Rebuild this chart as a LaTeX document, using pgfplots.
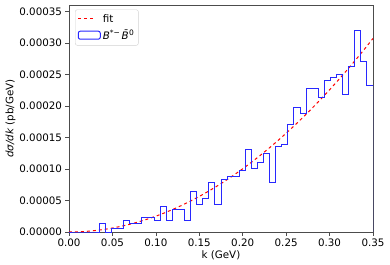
\documentclass[border=0pt]{standalone}
\usepackage{fontspec}
\setmainfont{DejaVu Sans}
\usepackage{pgfplots}
\pgfplotsset{compat=1.18}
\definecolor{mplblue}{RGB}{40,40,255}
\begin{document}
\begin{tikzpicture}
\useasboundingbox (-69bp,-33bp) rectangle (321bp,232bp);
\begin{axis}[
  scale only axis,
  width=304bp, height=227bp,
  xmin=0, xmax=0.35, ymin=0, ymax=0.00036,
  axis line style={black!70, line width=0.6bp},
  tick style={black!70, line width=0.6bp},
  tick align=outside, major tick length=3.5bp,
  xtick={0,0.05,...,0.351},
  ytick={0,0.00005,0.0001,0.00015,0.0002,0.00025,0.0003,0.00035},
  scaled x ticks=false, scaled y ticks=false,
  xticklabel style={/pgf/number format/.cd, fixed, fixed zerofill, precision=2, assume math mode=true},
  yticklabel style={/pgf/number format/.cd, fixed, fixed zerofill, precision=5, assume math mode=true},
  ticklabel style={font=\fontsize{10.3bp}{12bp}\selectfont},
  xtick pos=bottom, ytick pos=left,
  label style={font=\fontsize{10.3bp}{12bp}\selectfont},
  xlabel={k (GeV)},
  ylabel={\textit{dσ/dk} (pb/GeV)},
  xlabel style={yshift=3bp},
  ylabel style={yshift=-3bp},
  legend style={at={(0.02,0.98)}, anchor=north west, draw=black!18, rounded corners=2bp,
    font=\fontsize{10.3bp}{12bp}\selectfont, row sep=2bp, inner sep=2.5bp},
  legend cell align=left,
]
\addplot[red, dashed, line width=1bp] coordinates {
(0,0) (0.01,2.506e-7) (0.02,1.002e-6) (0.03,2.255e-6) (0.04,4.010e-6)
(0.05,6.265e-6) (0.06,9.022e-6) (0.07,1.2279e-5) (0.08,1.6038e-5) (0.09,2.0299e-5)
(0.10,2.506e-5) (0.11,3.0323e-5) (0.12,3.6086e-5) (0.13,4.2351e-5) (0.14,4.9118e-5)
(0.15,5.6385e-5) (0.16,6.4154e-5) (0.17,7.2423e-5) (0.18,8.1194e-5) (0.19,9.0467e-5)
(0.20,1.0024e-4) (0.21,1.1051e-4) (0.22,1.2129e-4) (0.23,1.3257e-4) (0.24,1.4434e-4)
(0.25,1.5663e-4) (0.26,1.6940e-4) (0.27,1.8269e-4) (0.28,1.9647e-4) (0.29,2.1076e-4)
(0.30,2.2554e-4) (0.31,2.4083e-4) (0.32,2.5662e-4) (0.33,2.7290e-4) (0.34,2.8969e-4)
(0.35,3.0699e-4)};
\addlegendentry{fit}
\addplot[mplblue, line width=1bp, const plot mark left, mark=none,
  legend image code/.code={\draw[mplblue, line width=1bp] (0bp,-4bp) rectangle (22bp,4bp);}] coordinates {
(0,0) (0.007,0) (0.014,0) (0.021,0) (0.028,0)
(0.035,1.38e-5) (0.042,0) (0.049,5.5e-6) (0.056,5.5e-6) (0.063,1.9e-5)
(0.070,1.38e-5) (0.077,1.38e-5) (0.084,2.33e-5) (0.091,2.33e-5) (0.098,1.9e-5)
(0.105,4.0e-5) (0.112,1.9e-5) (0.119,3.6e-5) (0.126,3.6e-5) (0.133,1.9e-5)
(0.140,6.5e-5) (0.147,4.4e-5) (0.154,5.3e-5) (0.161,7.9e-5) (0.168,4.4e-5)
(0.175,8.3e-5) (0.182,8.8e-5) (0.189,8.8e-5) (0.196,9.7e-5) (0.203,1.31e-4)
(0.210,1.01e-4) (0.217,1.10e-4) (0.224,1.24e-4) (0.231,7.9e-5) (0.238,1.35e-4)
(0.245,1.39e-4) (0.252,1.70e-4) (0.259,1.97e-4) (0.266,1.88e-4) (0.273,2.27e-4)
(0.280,2.27e-4) (0.287,2.13e-4) (0.294,2.40e-4) (0.301,2.45e-4) (0.308,2.49e-4)
(0.315,2.18e-4) (0.322,2.62e-4) (0.329,3.19e-4) (0.336,2.71e-4) (0.343,2.32e-4)
(0.350,0)};
\addlegendentry{\textit{B}\raisebox{0.75ex}{\fontsize{7.5bp}{8bp}\selectfont *−}\,\textit{B̄}\raisebox{0.75ex}{\fontsize{7.5bp}{8bp}\selectfont 0}}
\end{axis}
\end{tikzpicture}
\end{document}
